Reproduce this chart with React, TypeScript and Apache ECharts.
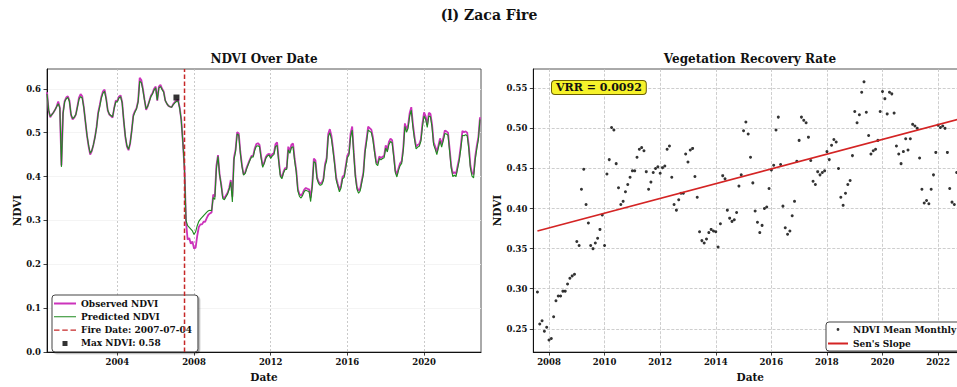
import React, { useEffect, useRef } from 'react';
import * as echarts from 'echarts';

const FONT = '"DejaVu Serif", "Liberation Serif", serif';

// Monthly NDVI record, first month is May 2000
const START_YEAR = 2000;
const START_MONTH = 5;

const observedNdvi: number[] = [
  // 2000 (May-Dec)
  0.592, 0.550, 0.535, 0.541, 0.546, 0.552, 0.560, 0.571,
  // 2001
  0.557, 0.425, 0.545, 0.572, 0.580, 0.583, 0.573, 0.540, 0.530, 0.534, 0.541, 0.560,
  // 2002
  0.580, 0.588, 0.583, 0.558, 0.525, 0.493, 0.469, 0.450, 0.458, 0.472, 0.490, 0.513,
  // 2003
  0.546, 0.563, 0.582, 0.594, 0.598, 0.578, 0.550, 0.541, 0.538, 0.534, 0.556, 0.573,
  // 2004
  0.572, 0.582, 0.585, 0.570, 0.527, 0.490, 0.468, 0.460, 0.475, 0.505, 0.540, 0.549,
  // 2005
  0.556, 0.572, 0.625, 0.620, 0.600, 0.575, 0.552, 0.560, 0.572, 0.584, 0.590, 0.600,
  // 2006
  0.605, 0.573, 0.605, 0.609, 0.600, 0.594, 0.573, 0.566, 0.561, 0.559, 0.558, 0.565,
  // 2007
  0.570, 0.573, 0.575, 0.557, 0.530, 0.480, 0.420, 0.296, 0.256, 0.260, 0.247, 0.252,
  // 2008
  0.236, 0.238, 0.265, 0.285, 0.291, 0.291, 0.297, 0.297, 0.306, 0.313, 0.316, 0.318,
  // 2009
  0.359, 0.354, 0.424, 0.449, 0.405, 0.382, 0.354, 0.350, 0.357, 0.363, 0.374, 0.392,
  // 2010
  0.354, 0.443, 0.461, 0.501, 0.498, 0.456, 0.426, 0.405, 0.409, 0.421, 0.430, 0.439,
  // 2011
  0.447, 0.447, 0.464, 0.474, 0.476, 0.472, 0.446, 0.424, 0.433, 0.445, 0.450, 0.452,
  // 2012
  0.444, 0.451, 0.453, 0.474, 0.478, 0.439, 0.405, 0.398, 0.411, 0.419, 0.419, 0.468,
  // 2013
  0.458, 0.473, 0.475, 0.440, 0.414, 0.371, 0.360, 0.357, 0.362, 0.370, 0.374, 0.372,
  // 2014
  0.371, 0.352, 0.381, 0.441, 0.437, 0.398, 0.388, 0.384, 0.386, 0.395, 0.428, 0.442,
  // 2015
  0.497, 0.508, 0.493, 0.464, 0.432, 0.397, 0.383, 0.370, 0.379, 0.400, 0.402, 0.425,
  // 2016
  0.448, 0.454, 0.498, 0.514, 0.455, 0.403, 0.376, 0.368, 0.372, 0.391, 0.409, 0.459,
  // 2017
  0.485, 0.514, 0.510, 0.507, 0.489, 0.460, 0.434, 0.430, 0.446, 0.442, 0.445, 0.447,
  // 2018
  0.471, 0.461, 0.479, 0.486, 0.483, 0.450, 0.414, 0.404, 0.419, 0.430, 0.435, 0.466,
  // 2019
  0.521, 0.507, 0.517, 0.545, 0.558, 0.520, 0.491, 0.468, 0.472, 0.474, 0.485, 0.521,
  // 2020
  0.546, 0.537, 0.518, 0.545, 0.543, 0.519, 0.478, 0.468, 0.456, 0.471, 0.487, 0.473,
  // 2021
  0.487, 0.505, 0.503, 0.500, 0.463, 0.424, 0.407, 0.410, 0.406, 0.424, 0.442, 0.470,
  // 2022
  0.504, 0.501, 0.503, 0.500, 0.470, 0.425, 0.408, 0.405, 0.445, 0.470, 0.490, 0.535,
];

const predictedNdvi: number[] = [
  // 2000 (May-Dec)
  0.588, 0.552, 0.537, 0.541, 0.546, 0.552, 0.559, 0.566,
  // 2001
  0.556, 0.422, 0.543, 0.570, 0.577, 0.580, 0.571, 0.542, 0.532, 0.535, 0.541, 0.558,
  // 2002
  0.576, 0.582, 0.579, 0.557, 0.526, 0.494, 0.471, 0.453, 0.459, 0.472, 0.489, 0.512,
  // 2003
  0.543, 0.560, 0.579, 0.590, 0.594, 0.576, 0.551, 0.542, 0.539, 0.536, 0.555, 0.570,
  // 2004
  0.570, 0.579, 0.582, 0.568, 0.528, 0.492, 0.470, 0.462, 0.476, 0.504, 0.537, 0.547,
  // 2005
  0.554, 0.570, 0.617, 0.614, 0.597, 0.574, 0.554, 0.560, 0.571, 0.582, 0.588, 0.597,
  // 2006
  0.602, 0.574, 0.602, 0.605, 0.598, 0.592, 0.573, 0.566, 0.561, 0.559, 0.558, 0.564,
  // 2007
  0.568, 0.571, 0.572, 0.556, 0.528, 0.478, 0.418, 0.300, 0.288, 0.284, 0.280, 0.276,
  // 2008
  0.268, 0.274, 0.288, 0.298, 0.303, 0.307, 0.311, 0.315, 0.319, 0.322, 0.323, 0.322,
  // 2009
  0.352, 0.348, 0.418, 0.446, 0.404, 0.380, 0.350, 0.347, 0.354, 0.360, 0.371, 0.388,
  // 2010
  0.342, 0.438, 0.457, 0.497, 0.494, 0.453, 0.423, 0.403, 0.407, 0.418, 0.428, 0.437,
  // 2011
  0.445, 0.444, 0.460, 0.469, 0.470, 0.468, 0.442, 0.421, 0.430, 0.442, 0.447, 0.449,
  // 2012
  0.441, 0.447, 0.450, 0.468, 0.471, 0.435, 0.401, 0.395, 0.408, 0.416, 0.416, 0.461,
  // 2013
  0.453, 0.466, 0.468, 0.435, 0.410, 0.367, 0.355, 0.351, 0.357, 0.366, 0.369, 0.367,
  // 2014
  0.366, 0.343, 0.377, 0.434, 0.431, 0.394, 0.384, 0.380, 0.382, 0.391, 0.423, 0.436,
  // 2015
  0.490, 0.500, 0.486, 0.459, 0.428, 0.392, 0.378, 0.365, 0.374, 0.395, 0.398, 0.420,
  // 2016
  0.443, 0.449, 0.490, 0.506, 0.450, 0.399, 0.371, 0.362, 0.367, 0.386, 0.405, 0.453,
  // 2017
  0.479, 0.506, 0.503, 0.500, 0.483, 0.455, 0.429, 0.425, 0.441, 0.438, 0.441, 0.443,
  // 2018
  0.465, 0.456, 0.473, 0.480, 0.477, 0.445, 0.409, 0.399, 0.414, 0.425, 0.430, 0.460,
  // 2019
  0.514, 0.501, 0.510, 0.538, 0.551, 0.513, 0.485, 0.463, 0.467, 0.469, 0.480, 0.514,
  // 2020
  0.538, 0.530, 0.512, 0.538, 0.536, 0.512, 0.472, 0.462, 0.450, 0.466, 0.481, 0.467,
  // 2021
  0.481, 0.498, 0.497, 0.494, 0.457, 0.419, 0.400, 0.403, 0.400, 0.418, 0.436, 0.463,
  // 2022
  0.494, 0.493, 0.495, 0.493, 0.463, 0.419, 0.401, 0.397, 0.437, 0.463, 0.484, 0.530,
];

// Fire event and pre-fire maximum
const FIRE_DATE = '2007-07-04';
const FIRE_YEAR = 2007.504;
const MAX_NDVI = 0.58;
const MAX_NDVI_YEAR = 2007.083;

// Sen's slope of post-fire monthly means (NDVI per year)
const VRR = 0.0092;
const SEN_INTERCEPT = 0.372;

// Axis ranges and tick labels
const leftXRange = [2000.33, 2022.97];
const rightXRange = [2007.435, 2023.05];
const leftYRange = [0, 0.645];
const rightYRange = [0.221, 0.574];
const leftYearTicks = [2004, 2008, 2012, 2016, 2020];
const rightYearTicks = [2008, 2010, 2012, 2014, 2016, 2018, 2020, 2022];
const leftNdviTicks = [0, 0.1, 0.2, 0.3, 0.4, 0.5, 0.6];
const rightNdviTicks = [0.25, 0.3, 0.35, 0.4, 0.45, 0.5, 0.55];

const OBS_COLOR = '#cc33bb';
const PRED_COLOR = '#1f8a1f';
const FIRE_COLOR = '#c62828';
const SEN_COLOR = '#d42424';

const monthYears = observedNdvi.map((_, i) => START_YEAR + (START_MONTH - 1 + i) / 12);
const firstPost = monthYears.findIndex((t) => t > FIRE_YEAR);
const lastIdx = monthYears.length - 1;

const observedPairs = observedNdvi.map((v, i) => [monthYears[i], v]);
const predictedPairs = predictedNdvi.map((v, i) => [monthYears[i], v]);
const monthlyMeanPairs = observedPairs.slice(firstPost);
const senX0 = monthYears[firstPost];
const senX1 = monthYears[lastIdx];
const senPairs = [
  [senX0, SEN_INTERCEPT],
  [senX1, SEN_INTERCEPT + VRR * (senX1 - senX0)],
];

// legend glyphs: invisible corner points fix the box, the filled part is the visible mark
const box = (w: number, h: number) => `M0 0L0.01 0M${w} ${h}L${w - 0.01} ${h}`;
const lineGlyph = (w: number, h: number, t: number) =>
  `path://${box(w, h)}M0 ${(h - t) / 2}H${w}V${(h + t) / 2}H0Z`;
const dashGlyph = (w: number, h: number, t: number) => {
  const y0 = (h - t) / 2;
  const y1 = (h + t) / 2;
  const d = w / 4;
  const g = (w - 3 * d) / 2;
  let p = `path://${box(w, h)}`;
  for (let i = 0; i < 3; i++) {
    const a = i * (d + g);
    p += `M${a} ${y0}H${a + d}V${y1}H${a}Z`;
  }
  return p;
};
const squareGlyph = (w: number, h: number, s: number) => {
  const x = (w - s) / 2;
  const y = (h - s) / 2;
  return `path://${box(w, h)}M${x} ${y}H${x + s}V${y + s}H${x}Z`;
};
const dotGlyph = (w: number, h: number, r: number) => {
  const cx = w / 2;
  const cy = h / 2;
  return `path://${box(w, h)}M${cx - r} ${cy}A${r} ${r} 0 1 0 ${cx + r} ${cy}A${r} ${r} 0 1 0 ${cx - r} ${cy}Z`;
};

const tickText = { color: '#111', fontFamily: FONT, fontWeight: 'bold' as const, fontSize: 8.5 };
const nameText = { color: '#111', fontFamily: FONT, fontWeight: 'bold' as const, fontSize: 10.5 };

function valueAxis(
  gridIndex: number,
  range: number[],
  ticks: number[],
  digits: number,
  name: string,
  nameGap: number,
  labelMargin: number,
  split: object
) {
  return {
    type: 'value',
    gridIndex,
    min: range[0],
    max: range[1],
    name,
    nameLocation: 'middle',
    nameGap,
    nameTextStyle: nameText,
    axisLine: { show: true, onZero: false, lineStyle: { color: '#111', width: 1 } },
    axisTick: { show: true, inside: false, length: 3.5, customValues: ticks, lineStyle: { color: '#111', width: 0.8 } },
    axisLabel: {
      ...tickText,
      margin: labelMargin,
      customValues: ticks,
      formatter: (v: number) => v.toFixed(digits),
    },
    splitLine: split,
    minorTick: { show: false },
  };
}

function buildOption() {
  const dottedV = { show: true, lineStyle: { color: '#bcbcbc', width: 0.8, type: [2, 2] } };
  const faintH = { show: true, lineStyle: { color: '#f1f1f1', width: 0.8 } };
  const dashed = { show: true, lineStyle: { color: '#c2c2c2', width: 0.8, type: [3, 1.6] } };

  const legendBase = {
    orient: 'vertical',
    selectedMode: false,
    backgroundColor: '#fff',
    borderColor: '#444',
    borderWidth: 1,
    borderRadius: 3,
    shadowColor: 'rgba(0,0,0,0.35)',
    shadowBlur: 1,
    shadowOffsetX: 1.5,
    shadowOffsetY: 1.5,
    textStyle: { fontFamily: FONT, fontWeight: 'bold', fontSize: 9, color: '#111', lineHeight: 11 },
  };

  return {
    animation: false,
    backgroundColor: '#fff',
    textStyle: { fontFamily: FONT },
    grid: [
      { left: 47, top: 69, width: 434, height: 287, show: true, borderColor: '#555', borderWidth: 1, containLabel: false },
      { left: 533.3, top: 69, width: 434, height: 287, show: true, borderColor: '#555', borderWidth: 1, containLabel: false },
    ],
    xAxis: [
      valueAxis(0, leftXRange, leftYearTicks, 0, 'Date', 17, 5, dottedV),
      valueAxis(1, rightXRange, rightYearTicks, 0, 'Date', 17, 5, dashed),
    ],
    yAxis: [
      valueAxis(0, leftYRange, leftNdviTicks, 1, 'NDVI', 24, 6, faintH),
      valueAxis(1, rightYRange, rightNdviTicks, 2, 'NDVI', 31, 6, dashed),
    ],
    legend: [
      {
        ...legendBase,
        left: 52,
        top: 295,
        padding: [3, 6, 3, 2],
        itemWidth: 22,
        itemHeight: 10,
        itemGap: 2.3,
        data: [
          { name: 'Observed NDVI', icon: lineGlyph(22, 10, 1.8), itemStyle: { color: OBS_COLOR, borderWidth: 0 } },
          { name: 'Predicted NDVI', icon: lineGlyph(22, 10, 1.1), itemStyle: { color: PRED_COLOR, borderWidth: 0 } },
          { name: `Fire Date: ${FIRE_DATE}`, icon: dashGlyph(22, 10, 1.4), itemStyle: { color: FIRE_COLOR, borderWidth: 0 } },
          { name: `Max NDVI: ${MAX_NDVI.toFixed(2)}`, icon: squareGlyph(22, 10, 5), itemStyle: { color: '#000', borderWidth: 0 } },
        ],
      },
      {
        ...legendBase,
        left: 826,
        top: 322,
        padding: [2, 6, 2, 2],
        itemWidth: 20,
        itemHeight: 8,
        itemGap: 3,
        data: [
          { name: 'NDVI Mean Monthly', icon: dotGlyph(20, 8, 1.4), itemStyle: { color: '#000', borderWidth: 0 } },
          { name: "Sen's Slope", icon: lineGlyph(20, 8, 1.8), itemStyle: { color: SEN_COLOR, borderWidth: 0 } },
        ],
      },
    ],
    graphic: [
      {
        type: 'text',
        x: 489,
        y: 15,
        style: { text: '(l) Zaca Fire', font: `bold 14px ${FONT}`, fill: '#111', align: 'center', verticalAlign: 'middle', textAlign: 'center', textVerticalAlign: 'middle' },
      },
      {
        type: 'text',
        x: 264,
        y: 59,
        style: { text: 'NDVI Over Date', font: `bold 12px ${FONT}`, fill: '#111', align: 'center', verticalAlign: 'middle', textAlign: 'center', textVerticalAlign: 'middle' },
      },
      {
        type: 'text',
        x: 750,
        y: 59,
        style: { text: 'Vegetation Recovery Rate', font: `bold 12px ${FONT}`, fill: '#111', align: 'center', verticalAlign: 'middle', textAlign: 'center', textVerticalAlign: 'middle' },
      },
      {
        type: 'text',
        x: 552,
        y: 81,
        z: 10,
        style: {
          text: `VRR = ${VRR.toFixed(4)}`,
          font: `bold 11px ${FONT}`,
          fill: '#111',
          align: 'left',
          verticalAlign: 'top',
          backgroundColor: '#f6f22a',
          borderColor: '#6b6000',
          borderWidth: 1,
          borderRadius: 3,
          padding: [1, 4, 1, 4],
        },
      },
    ],
    series: [
      {
        name: 'Observed NDVI',
        type: 'line',
        xAxisIndex: 0,
        yAxisIndex: 0,
        data: observedPairs,
        symbol: 'none',
        lineStyle: { color: OBS_COLOR, width: 1.8 },
        itemStyle: { color: OBS_COLOR },
        z: 2,
      },
      {
        name: 'Predicted NDVI',
        type: 'line',
        xAxisIndex: 0,
        yAxisIndex: 0,
        data: predictedPairs,
        symbol: 'none',
        lineStyle: { color: PRED_COLOR, width: 1.1 },
        itemStyle: { color: PRED_COLOR },
        z: 3,
      },
      {
        name: `Fire Date: ${FIRE_DATE}`,
        type: 'line',
        xAxisIndex: 0,
        yAxisIndex: 0,
        data: [
          [FIRE_YEAR, leftYRange[0]],
          [FIRE_YEAR, leftYRange[1]],
        ],
        symbol: 'none',
        lineStyle: { color: FIRE_COLOR, width: 1.5, type: [4.5, 2.5] },
        itemStyle: { color: FIRE_COLOR },
        z: 4,
      },
      {
        name: `Max NDVI: ${MAX_NDVI.toFixed(2)}`,
        type: 'scatter',
        xAxisIndex: 0,
        yAxisIndex: 0,
        data: [[MAX_NDVI_YEAR, MAX_NDVI]],
        symbol: 'rect',
        symbolSize: 6,
        itemStyle: { color: '#000' },
        z: 5,
      },
      {
        name: 'NDVI Mean Monthly',
        type: 'scatter',
        xAxisIndex: 1,
        yAxisIndex: 1,
        data: monthlyMeanPairs,
        symbol: 'circle',
        symbolSize: 3,
        itemStyle: { color: '#000' },
        z: 3,
      },
      {
        name: "Sen's Slope",
        type: 'line',
        xAxisIndex: 1,
        yAxisIndex: 1,
        data: senPairs,
        symbol: 'none',
        lineStyle: { color: SEN_COLOR, width: 1.8 },
        itemStyle: { color: SEN_COLOR },
        z: 4,
      },
    ],
  };
}

export default function App() {
  const ref = useRef<HTMLDivElement>(null);
  useEffect(() => {
    if (!ref.current) return;
    const chart = echarts.init(ref.current, null, { renderer: 'svg' });
    chart.setOption(buildOption() as any);
    return () => chart.dispose();
  }, []);
  // The figure runs past the right edge of the view, so the canvas is wider than its frame.
  return (
    <div style={{ position: 'absolute', left: 0, top: 0, width: 957, height: 387, overflow: 'hidden', background: '#fff' }}>
      <div ref={ref} style={{ position: 'absolute', left: 0, top: 0, width: 990, height: 387 }} />
    </div>
  );
}
